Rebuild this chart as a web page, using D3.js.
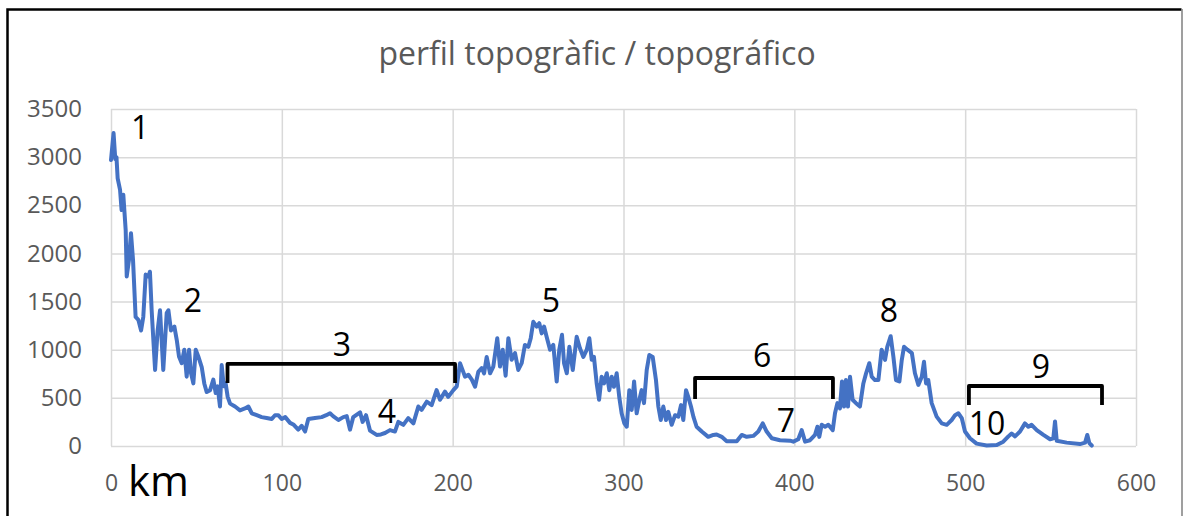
<!DOCTYPE html>
<html>
<head>
<meta charset="utf-8">
<title>perfil topogràfic</title>
<script src="https://cdn.jsdelivr.net/npm/d3@7"></script>
<style>
    html, body { margin: 0; padding: 0; background: #fff; }
    #mainDiv { width: 1187px; height: 516px; }
    text { font-family: "Open Sans", "Noto Sans", sans-serif; }
</style>
</head>
<body>
<div id="mainDiv"></div>
<script>
'use strict';

// distance along the profile (km)
var km = [
    0, 1.5, 2.5, 3.2, 3.9, 5.3, 6.2, 7.2, 8.6, 9.2, 10.5, 11.7, 12.9, 14.4, 16.0, 17.6, 18.9, 20.3, 21.9, 22.8,
    23.8, 25.8, 27.3, 28.7, 30.6, 32.6, 33.6, 35.1, 37.1, 38.5, 39.8, 41.4, 42.9, 44.3, 45.7, 46.8, 48.2, 49.6, 51.1, 53.1,
    54.6, 56.0, 58.0, 59.9, 61.3, 62.4, 63.8, 64.8, 66.0, 67.1, 68.3, 69.7, 72.6, 75.5, 78.4, 80.4, 82.4, 85.3, 88.2, 91.1,
    94.1, 96.0, 97.9, 99.9, 102, 104.8, 107, 109.6, 111.6, 113.6, 115.5, 119.4, 123.3, 126, 128.2, 130, 133.1, 136.0, 138.0, 139.9,
    141.8, 145.8, 147.3, 149.3, 151.6, 155.5, 158, 160.4, 163.3, 166.2, 168.2, 171.1, 174.0, 177.0, 179.9, 181.8, 184.8, 187.7, 190.6, 192.6,
    195.5, 197.4, 200.4, 202.4, 204.3, 206.2, 207.2, 209.2, 211.2, 213.1, 215.0, 217.0, 218.4, 219.9, 221.9, 223.8, 226.1, 227.7, 229.3, 231.0,
    232.6, 234.5, 236.5, 238.4, 240.4, 242.3, 244.3, 245.7, 247.2, 249.2, 250.7, 252.1, 253.5, 255.0, 257.0, 258.9, 260.9, 262.4, 264.0, 265.2,
    266.8, 268.3, 270.3, 272.6, 274.5, 276.5, 278.5, 280.0, 281.4, 282.7, 284.3, 285.7, 287.2, 288.6, 290.2, 291.7, 293.1, 294.4, 296.0, 297.5,
    298.9, 300.5, 301.9, 303.4, 304.8, 306.2, 307.7, 309.3, 310.6, 312.0, 313.6, 315.1, 317.1, 319.0, 320.4, 321.8, 323.3, 324.9, 326.2, 328.2,
    330.2, 332.1, 333.7, 335.0, 336.6, 337.9, 339.5, 340.9, 342.8, 345.8, 349.6, 352.6, 354.5, 357.5, 360.4, 366.3, 369.2, 372.1, 376.0, 378.9,
    381.5, 383.8, 386.8, 391.6, 397.5, 399.4, 402.3, 404.3, 406.3, 409.2, 412.1, 413.5, 414.6, 416.0, 418.0, 419.9, 422.5, 423.8, 425.2, 426.7,
    427.9, 429.1, 430.2, 431.4, 432.6, 434.1, 436.1, 438.4, 440.4, 442.0, 443.9, 445.3, 447.2, 449.2, 451.1, 453.1, 454.4, 456.4, 458.0, 459.5,
    461.5, 462.9, 464.2, 466.2, 468.8, 470.6, 472.6, 474.6, 475.9, 477.1, 478.4, 480.4, 483.3, 486.3, 489.2, 492.1, 494.1, 496.0, 498.0, 499.9,
    502.8, 506.7, 512.6, 518.5, 522.3, 525.3, 527.2, 529.2, 532.1, 535.0, 537.0, 538.9, 541.9, 545.8, 549.7, 551.6, 552.6, 553.6, 559.4, 567.2,
    570.2, 571.5, 572.7, 574.1
];

// elevation (m)
var elevation = [
    2970, 3250, 2980, 3000, 2780, 2660, 2450, 2610, 2240, 1760, 1930, 2210, 1930, 1340, 1310, 1200, 1340, 1780, 1760, 1810,
    1410, 790, 1200, 1410, 790, 1380, 1410, 1200, 1240, 1100, 930, 860, 1000, 720, 1000, 760, 650, 1000, 930, 820,
    650, 560, 580, 690, 550, 620, 410, 840, 620, 650, 510, 440, 410, 370, 390, 410, 340, 320, 300, 290,
    280, 320, 320, 280, 300, 240, 220, 170, 210, 150, 280, 290, 300, 320, 340, 310, 270, 300, 310, 170,
    300, 350, 250, 320, 160, 115, 120, 135, 165, 150, 250, 220, 290, 235, 410, 375, 460, 425, 580, 480,
    565, 510, 580, 620, 860, 770, 720, 740, 690, 615, 770, 810, 755, 925, 755, 825, 1120, 825, 1000, 730,
    1120, 895, 965, 790, 860, 1050, 1030, 1120, 1290, 1240, 1275, 1170, 1240, 1135, 1000, 1050, 670, 1000, 1155, 860,
    755, 1030, 790, 1135, 1015, 925, 1000, 1120, 895, 925, 650, 480, 720, 650, 755, 580, 720, 615, 755, 510,
    340, 235, 200, 580, 375, 670, 340, 480, 580, 445, 790, 945, 925, 685, 410, 270, 410, 270, 355, 220,
    320, 305, 425, 270, 580, 510, 410, 305, 200, 150, 95, 115, 120, 95, 50, 50, 115, 95, 105, 150,
    235, 150, 80, 60, 55, 45, 70, 165, 45, 60, 115, 200, 95, 220, 200, 220, 165, 340, 445, 390,
    670, 410, 685, 410, 720, 480, 445, 410, 650, 755, 860, 720, 685, 685, 1000, 895, 1030, 1140, 925, 685,
    670, 895, 1030, 1000, 965, 755, 635, 720, 875, 650, 685, 445, 305, 235, 220, 270, 320, 340, 290, 150,
    80, 25, 5, 10, 45, 100, 130, 100, 150, 235, 200, 220, 165, 115, 70, 80, 255, 55, 35, 20,
    35, 115, 30, 5
];

var xTicks = [0, 100, 200, 300, 400, 500, 600];
var yTicks = [0, 500, 1000, 1500, 2000, 2500, 3000, 3500];

// numbered landmarks: label, km, elevation of the text baseline
var markLabels = ['1', '2', '3', '4', '5', '6', '7', '8', '9', '10'];
var markKm     = [17.0, 48.0, 135.2, 161.5, 257.5, 381.1, 395.1, 455.4, 544.4, 512.8];
var markElev   = [3190, 1390, 935, 239, 1392, 821, 145, 1288, 706, 114];

// brackets: from km, to km, top elevation, foot elevation
var bracketFrom = [68.2, 341.9, 502.2];
var bracketTo   = [201.4, 422.6, 580.1];
var bracketTop  = [852, 706, 623];
var bracketFoot = [654, 488, 426];

var titleText = 'perfil topogràfic / topográfico';

var myApp = {};

myApp.W = 1187;
myApp.H = 516;
myApp.plot = {left: 111, right: 1136, top: 109, bottom: 446};

myApp.appendSvg = function(div)
{
    var svg = d3.select(div).append('svg')
        .attr('width', myApp.W)
        .attr('height', myApp.H);

    return svg;
}

myApp.drawFrame = function(svg)
{
    svg.append('rect')
        .attr('x', 0).attr('y', 0)
        .attr('width', myApp.W).attr('height', myApp.H)
        .attr('fill', '#fff');

    // chart border, open at the bottom of the picture
    svg.append('path')
        .attr('d', 'M7.5,' + (myApp.H + 5) + ' L7.5,9.5 L1181.5,9.5')
        .attr('fill', 'none')
        .attr('stroke', '#000')
        .attr('stroke-width', 2.5);

    svg.append('line')
        .attr('x1', 1182).attr('x2', 1182)
        .attr('y1', 9).attr('y2', myApp.H + 5)
        .attr('stroke', '#7f7f7f')
        .attr('stroke-width', 1.5);
}

myApp.run = function()
{
    var svg = myApp.appendSvg('#mainDiv');
    myApp.drawFrame(svg);

    var p = myApp.plot;

    var x = d3.scaleLinear().domain([0, 600]).range([p.left, p.right]);
    var y = d3.scaleLinear().domain([0, 3500]).range([p.bottom, p.top]);

    // vertical gridlines
    svg.append('g')
        .attr('transform', 'translate(0,' + p.bottom + ')')
        .call(d3.axisBottom(x).tickValues(xTicks).tickSize(-(p.bottom - p.top)).tickFormat(''))
        .call(function(g){ g.select('.domain').remove(); })
        .selectAll('line')
        .attr('stroke', '#d9d9d9')
        .attr('stroke-width', 1.5);

    // horizontal gridlines
    svg.append('g')
        .attr('transform', 'translate(' + p.left + ',0)')
        .call(d3.axisLeft(y).tickValues(yTicks).tickSize(-(p.right - p.left)).tickFormat(''))
        .call(function(g){ g.select('.domain').remove(); })
        .selectAll('line')
        .attr('stroke', '#d9d9d9')
        .attr('stroke-width', 1.5);

    // tick labels
    var xAxis = svg.append('g')
        .attr('transform', 'translate(0,' + p.bottom + ')')
        .call(d3.axisBottom(x).tickValues(xTicks).tickSize(0).tickPadding(29).tickFormat(d3.format('d')));
    xAxis.select('.domain').remove();
    xAxis.selectAll('text')
        .attr('fill', '#595959')
        .style('font-size', '23px');

    var yAxis = svg.append('g')
        .attr('transform', 'translate(' + p.left + ',0)')
        .call(d3.axisLeft(y).tickValues(yTicks).tickSize(0).tickPadding(29).tickFormat(d3.format('d')));
    yAxis.select('.domain').remove();
    yAxis.selectAll('text')
        .attr('fill', '#595959')
        .style('font-size', '24px');

    // the profile
    var pts = d3.zip(km, elevation);

    var line = d3.line()
        .x(function(d){ return x(d[0]); })
        .y(function(d){ return y(d[1]); });

    svg.append('path')
        .datum(pts)
        .attr('d', line)
        .attr('fill', 'none')
        .attr('stroke', '#4472c4')
        .attr('stroke-width', 4)
        .attr('stroke-linejoin', 'round')
        .attr('stroke-linecap', 'round');

    // brackets
    svg.selectAll('path.bracket')
        .data(d3.range(bracketFrom.length))
        .enter()
        .append('path')
        .attr('class', 'bracket')
        .attr('d', function(i){
            return 'M' + x(bracketFrom[i]) + ',' + y(bracketFoot[i]) +
                   ' L' + x(bracketFrom[i]) + ',' + y(bracketTop[i]) +
                   ' L' + x(bracketTo[i]) + ',' + y(bracketTop[i]) +
                   ' L' + x(bracketTo[i]) + ',' + y(bracketFoot[i]);
        })
        .attr('fill', 'none')
        .attr('stroke', '#000')
        .attr('stroke-width', 3.8)
        .attr('stroke-linejoin', 'round');

    // numbered landmarks
    svg.selectAll('text.mark')
        .data(d3.range(markLabels.length))
        .enter()
        .append('text')
        .attr('class', 'mark')
        .attr('x', function(i){ return x(markKm[i]); })
        .attr('y', function(i){ return y(markElev[i]); })
        .attr('text-anchor', 'middle')
        .attr('fill', '#000')
        .style('font-size', '32px')
        .text(function(i){ return markLabels[i]; });

    // title
    svg.append('text')
        .attr('x', 597)
        .attr('y', 65)
        .attr('text-anchor', 'middle')
        .attr('fill', '#595959')
        .style('font-size', '32px')
        .text(titleText);

    // km unit
    svg.append('text')
        .attr('x', 128)
        .attr('y', 496)
        .attr('fill', '#000')
        .style('font-size', '42px')
        .text('km');
}

window.myApp = myApp;
myApp.run();
</script>
</body>
</html>
